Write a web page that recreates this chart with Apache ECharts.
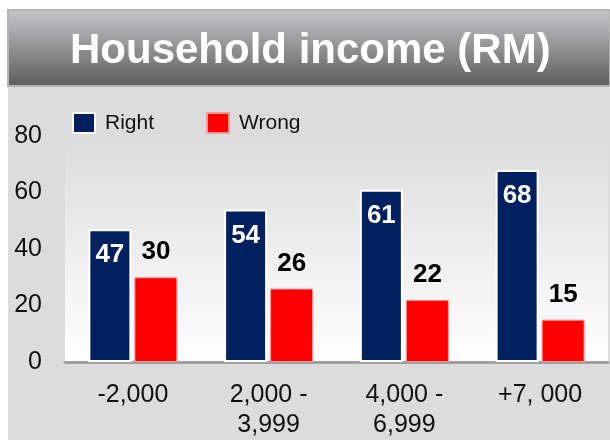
<!DOCTYPE html>
<html>
<head>
<meta charset="utf-8">
<script src="https://cdn.jsdelivr.net/npm/echarts@6/dist/echarts.min.js"></script>
<style>
  html, body { margin: 0; padding: 0; background: #fff; }
  #main { width: 610px; height: 440px; }
</style>
</head>
<body>
<div id="main"></div>
<script>
  // chart data
  const categories = ['-2,000', '2,000 -\n3,999', '4,000 -\n6,999', '+7, 000'];
  const rightValues = [47, 54, 61, 68];
  const wrongValues = [30, 26, 22, 15];
  const yTicks = [0, 20, 40, 60, 80];

  const chart = echarts.init(document.getElementById('main'));
  chart.setOption({
    animation: false,
    textStyle: { fontFamily: 'Liberation Sans, Arial, sans-serif' },
    graphic: [
      // grey panel
      { type: 'rect', z: -10, shape: { x: 8, y: 86, width: 602, height: 354 },
        style: { fill: '#dcdcdc' } },
      // title banner
      { type: 'rect', z: -5, shape: { x: 8, y: 10, width: 602, height: 76 },
        style: {
          fill: new echarts.graphic.LinearGradient(0, 0, 0, 1, [
            { offset: 0, color: '#c6c7c9' },
            { offset: 1, color: '#5c5c5c' }
          ]),
          stroke: '#b4b4b4', lineWidth: 2
        } },
      { type: 'text', z: 10, left: 70, top: 30,
        style: { text: 'Household income (RM)', fill: '#fff', font: 'bold 42px Liberation Sans, Arial, sans-serif' } }
    ],
    legend: {
      left: 67, top: 107,
      icon: 'rect',
      itemWidth: 22, itemHeight: 20, itemGap: 52,
      textStyle: { fontSize: 21, color: '#111', padding: [0, 0, 0, 5] },
      data: ['Right', 'Wrong']
    },
    grid: {
      left: 65, right: 2, top: 136, bottom: 78,
      show: true, borderWidth: 0,
      backgroundColor: new echarts.graphic.LinearGradient(0, 0, 0, 1, [
        { offset: 0, color: '#dcdcdc' },
        { offset: 1, color: '#ffffff' }
      ])
    },
    xAxis: {
      type: 'category',
      data: categories,
      axisTick: { show: false },
      axisLine: { lineStyle: { color: '#a0a0a0', width: 3 } },
      axisLabel: { fontSize: 25, color: '#111', lineHeight: 30, margin: 18 }
    },
    yAxis: {
      type: 'value',
      min: yTicks[0], max: yTicks[yTicks.length - 1], interval: 20,
      splitLine: { show: false },
      axisLine: { show: false },
      axisTick: { show: false },
      axisLabel: { fontSize: 25, color: '#111', margin: 23 }
    },
    series: [
      {
        name: 'Right', type: 'bar',
        data: rightValues,
        barWidth: 43, barGap: '7%',
        itemStyle: { color: '#002060', borderColor: '#fff', borderWidth: 2 },
        label: { show: true, position: 'insideTop', distance: 13,
          color: '#fff', fontSize: 26, fontWeight: 'bold' }
      },
      {
        name: 'Wrong', type: 'bar',
        data: wrongValues,
        barWidth: 43,
        itemStyle: { color: '#ff0000', borderColor: '#ff9999', borderWidth: 1 },
        label: { show: true, position: 'top', distance: 12,
          color: '#000', fontSize: 26, fontWeight: 'bold' }
      }
    ]
  });
</script>
</body>
</html>
